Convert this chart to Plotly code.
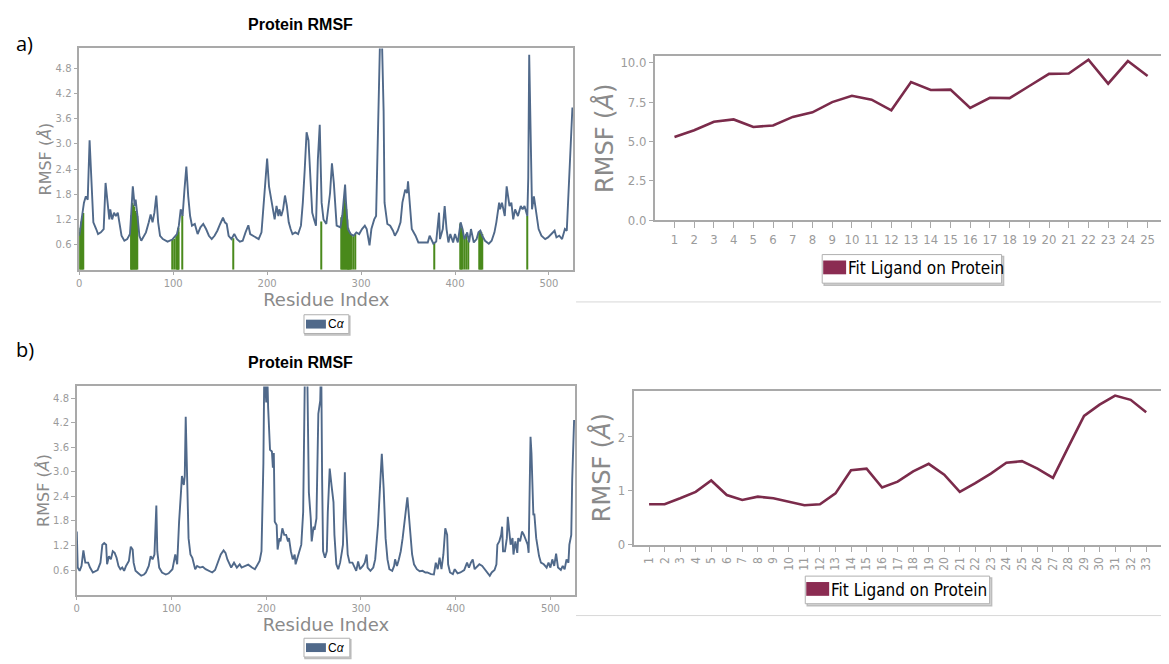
import plotly.graph_objects as go

# ---------------- data ----------------
# Panel a: protein C-alpha RMSF (residue index, RMSF in Angstrom)
a_res = [0, 3, 5, 7, 9, 11, 13, 15, 18, 20, 23, 26, 28, 30, 32, 33, 35, 37, 39, 41, 43, 45, 48, 51, 54,
         57, 59, 60, 62, 64, 66, 69, 71, 74, 76, 78, 80, 82, 84, 86, 89, 94, 99, 104, 106, 108, 110, 112,
         114, 116, 118, 120, 123, 126, 129, 132, 135, 138, 141, 144, 147, 150, 153, 155, 157, 159, 162,
         165, 168, 171, 174, 177, 180, 182, 185, 188, 191, 194, 196, 198, 200, 202, 204, 206, 208, 210,
         212, 213, 215, 217, 219, 221, 223, 225, 227, 230, 233, 236, 238, 240, 242, 244, 246, 248, 250,
         252, 254, 256, 258, 260, 263, 267, 269, 271, 274, 278, 280, 283, 284, 286, 289, 292, 295, 298,
         301, 304, 306, 309, 311, 314, 316, 318, 320, 322, 324, 325, 328, 331, 334, 336, 339, 342, 344,
         347, 349, 350, 352, 354, 358, 361, 366, 371, 373, 377, 380, 383, 384, 387, 389, 391, 393, 395,
         398, 400, 403, 406, 408, 410, 413, 415, 417, 420, 423, 425, 427, 429, 432, 436, 439, 442, 444,
         447, 448, 450, 453, 455, 458, 460, 462, 464, 467, 470, 472, 474, 477, 478, 479, 480, 482, 484,
         487, 489, 492, 496, 499, 503, 506, 508, 511, 514, 517, 519, 521, 523, 525]
a_rmsf = [0.81, 1.28, 1.60, 1.75, 1.67, 3.09, 2.07, 1.13, 0.97, 0.85, 0.89, 0.97, 2.07, 1.67, 1.20, 1.44,
          1.20, 1.36, 1.28, 1.36, 1.13, 0.81, 0.69, 0.73, 0.85, 1.99, 1.52, 1.67, 1.28, 0.81, 0.69, 0.81,
          0.89, 1.13, 1.32, 1.13, 1.36, 1.77, 1.13, 0.81, 0.73, 0.67, 0.72, 0.85, 1.05, 1.44, 1.28, 1.91,
          2.46, 1.75, 1.28, 1.05, 1.09, 0.85, 1.01, 1.09, 0.97, 0.81, 0.73, 0.81, 0.93, 1.09, 1.24, 1.13,
          1.09, 0.81, 0.73, 0.85, 0.73, 0.67, 0.69, 0.89, 1.06, 0.85, 0.81, 0.77, 0.73, 0.89, 1.44, 1.99,
          2.65, 1.99, 1.75, 1.44, 1.20, 1.52, 1.28, 1.44, 1.28, 1.44, 1.77, 1.52, 1.13, 0.97, 0.85, 0.89,
          0.85, 1.05, 1.60, 2.38, 3.28, 3.09, 2.07, 1.36, 1.20, 1.05, 2.62, 3.46, 1.60, 1.20, 1.09, 1.83,
          2.54, 2.07, 1.05, 1.01, 1.28, 2.03, 1.60, 0.97, 0.85, 0.81, 0.89, 0.85, 0.97, 1.05, 0.97, 0.58,
          0.97, 1.20, 1.28, 3.00, 5.30, 5.70, 3.79, 1.60, 1.09, 1.05, 0.93, 0.81, 0.93, 1.13, 1.60, 1.91,
          1.83, 2.11, 1.44, 0.97, 0.81, 0.65, 0.65, 0.65, 0.81, 0.62, 0.67, 1.36, 0.73, 0.97, 1.52, 0.97,
          0.65, 0.85, 0.65, 0.85, 0.65, 1.13, 0.97, 0.73, 0.89, 0.65, 0.97, 0.65, 0.73, 0.89, 0.93, 0.81,
          0.69, 0.62, 0.69, 0.89, 1.13, 1.60, 1.44, 1.60, 1.28, 1.99, 1.52, 1.60, 1.20, 1.44, 1.28, 1.52,
          1.44, 1.52, 1.28, 2.20, 5.13, 3.50, 1.44, 1.75, 1.28, 0.97, 0.81, 0.73, 0.77, 0.85, 0.93, 0.77,
          0.81, 0.73, 0.97, 0.93, 1.83, 3.00, 3.87]

# Panel a: ligand-contact residues (green bars) and their RMSF heights
a_contact_res = [0, 1, 2, 3, 4, 55, 56, 57, 58, 59, 60, 61, 62, 99, 101, 103, 104, 105, 106, 110, 164,
                 258, 279, 280, 281, 282, 283, 284, 285, 286, 287, 288, 289, 290, 292, 294, 378, 406,
                 407, 408, 410, 412, 414, 426, 427, 428, 429, 477]
a_contact_h = [0.90, 1.00, 1.15, 1.28, 1.35, 0.90, 1.30, 1.60, 1.55, 1.50, 1.40, 1.35, 1.28, 0.72,
               0.74, 0.80, 0.85, 0.90, 1.00, 1.30, 0.75, 1.15, 1.25, 1.30, 1.45, 1.70, 1.60, 1.45,
               1.20, 1.00, 0.95, 0.90, 0.85, 0.85, 0.80, 0.85, 0.65, 1.10, 1.00, 0.95, 0.80, 0.85,
               0.70, 0.90, 0.93, 0.90, 0.85, 1.28]

# Panel a: ligand RMSF per atom
lig_a_atoms = list(range(1, 26))
lig_a_rmsf = [5.29, 5.71, 6.25, 6.40, 5.92, 6.02, 6.56, 6.85, 7.50, 7.90, 7.65, 6.98, 8.77, 8.27, 8.29,
              7.13, 7.77, 7.75, 8.52, 9.29, 9.31, 10.19, 8.67, 10.10, 9.15]

# Panel b: protein C-alpha RMSF
b_res = [0, 1, 3, 5, 7, 9, 12, 14, 17, 20, 22, 25, 27, 29, 31, 32, 34, 36, 38, 40, 42, 44, 46, 48, 50,
         52, 55, 57, 59, 60, 62, 65, 68, 71, 73, 76, 78, 80, 82, 84, 85, 87, 90, 94, 97, 101, 103, 104,
         106, 107, 108, 110, 111, 113, 114, 115, 117, 118, 120, 122, 125, 127, 130, 133, 136, 139, 143,
         146, 149, 152, 155, 157, 159, 161, 163, 166, 169, 172, 174, 178, 181, 185, 188, 190, 193, 195,
         197, 198, 200, 201, 202, 204, 206, 207, 208, 209, 211, 212, 214, 215, 217, 219, 221, 223, 224,
         226, 228, 230, 231, 233, 235, 237, 239, 240, 241, 243, 244, 245, 247, 248, 250, 251, 253, 255,
         257, 258, 259, 260, 262, 264, 265, 267, 269, 271, 272, 274, 276, 278, 280, 281, 283, 284, 286,
         288, 291, 293, 295, 297, 299, 302, 304, 306, 307, 310, 313, 315, 318, 320, 322, 324, 326, 328,
         330, 333, 335, 336, 338, 340, 342, 344, 346, 348, 349, 350, 352, 354, 356, 359, 362, 365, 368,
         370, 374, 377, 379, 381, 383, 385, 387, 389, 391, 392, 394, 397, 399, 402, 405, 409, 412, 414,
         416, 418, 420, 422, 425, 428, 431, 434, 436, 438, 441, 443, 444, 446, 448, 449, 450, 452, 454,
         455, 457, 458, 460, 461, 463, 465, 466, 468, 470, 472, 474, 476, 477, 478, 479, 480, 482, 483,
         485, 488, 490, 493, 496, 498, 500, 502, 504, 506, 508, 511, 513, 515, 517, 519, 520, 522, 523,
         525]
b_rmsf = [1.54, 0.66, 0.58, 0.70, 1.08, 0.78, 0.78, 0.66, 0.54, 0.58, 0.60, 0.78, 1.22, 1.26, 1.22, 0.74,
          0.94, 0.86, 1.06, 1.02, 0.90, 0.70, 0.62, 0.66, 0.58, 0.70, 0.82, 1.17, 1.10, 0.78, 0.58, 0.52,
          0.46, 0.49, 0.54, 0.70, 0.94, 0.86, 0.98, 2.18, 1.06, 0.66, 0.54, 0.49, 0.52, 0.62, 0.86, 0.98,
          0.74, 1.30, 1.78, 2.50, 2.90, 2.68, 2.90, 4.35, 1.70, 1.38, 0.98, 0.90, 0.62, 0.70, 0.66, 0.68,
          0.62, 0.58, 0.54, 0.60, 0.78, 0.98, 1.08, 1.02, 0.86, 0.74, 0.66, 0.78, 0.66, 0.74, 0.66, 0.70,
          0.73, 0.66, 0.62, 0.70, 0.82, 1.06, 3.22, 5.60, 4.70, 5.50, 4.58, 3.54, 3.50, 3.10, 3.46, 1.78,
          1.70, 1.10, 1.38, 1.30, 1.62, 1.46, 1.46, 1.30, 1.38, 1.06, 0.86, 0.98, 0.74, 0.90, 1.06, 1.22,
          2.02, 3.62, 5.80, 6.00, 3.62, 2.50, 1.86, 1.30, 1.66, 1.58, 1.86, 4.42, 4.74, 5.80, 2.82, 1.06,
          0.90, 1.06, 2.02, 3.08, 2.66, 2.26, 1.46, 0.74, 0.62, 0.78, 1.06, 1.22, 2.99, 1.86, 0.98, 0.78,
          0.78, 0.66, 0.58, 0.81, 0.62, 0.70, 0.78, 0.98, 0.66, 0.58, 0.66, 0.86, 1.70, 2.58, 3.44, 2.58,
          1.38, 0.86, 0.62, 0.58, 0.70, 0.86, 0.70, 0.86, 1.06, 1.38, 1.86, 2.18, 2.38, 2.10, 1.38, 0.98,
          0.74, 0.62, 0.57, 0.58, 0.54, 0.54, 0.50, 0.49, 0.78, 0.62, 0.90, 0.62, 0.98, 1.62, 1.46, 0.74,
          0.54, 0.50, 0.62, 0.52, 0.54, 0.60, 0.78, 0.66, 0.78, 0.86, 0.62, 0.66, 0.74, 0.70, 0.60, 0.50,
          0.46, 0.54, 0.60, 0.74, 1.22, 1.30, 1.46, 1.66, 1.06, 1.06, 1.38, 1.90, 1.42, 1.22, 1.38, 0.98,
          1.30, 1.02, 1.38, 1.30, 1.54, 1.46, 1.34, 1.22, 1.02, 2.82, 3.86, 3.46, 1.94, 1.98, 1.38, 0.94,
          0.78, 0.74, 0.66, 0.78, 0.66, 0.86, 0.70, 1.00, 0.66, 0.60, 0.70, 0.62, 0.86, 0.78, 1.22, 1.46,
          2.82, 4.27]

# Panel b: ligand RMSF per atom
lig_b_atoms = list(range(1, 34))
lig_b_rmsf = [0.75, 0.75, 0.86, 0.98, 1.19, 0.92, 0.83, 0.89, 0.86, 0.80, 0.73, 0.75, 0.95, 1.38, 1.41,
              1.06, 1.17, 1.36, 1.50, 1.30, 0.98, 1.14, 1.32, 1.52, 1.55, 1.41, 1.24, 1.82, 2.39, 2.60,
              2.77, 2.69, 2.46]

protein_ticks = [0.6, 1.2, 1.8, 2.4, 3.0, 3.6, 4.2, 4.8]
protein_ticktext = ["0.6", "1.2", "1.8", "2.4", "3.0", "3.6", "4.2", "4.8"]
res_ticks = [0, 100, 200, 300, 400, 500]
lig_a_yticks = [0, 2.5, 5, 7.5, 10]
lig_a_yticktext = ["0.0", "2.5", "5.0", "7.5", "10.0"]
lig_b_yticks = [0, 1, 2]

# ---------------- styling ----------------
OFF = 8                      # default page body margin
W, H = 1169 - OFF, 664 - OFF
PROT = "#50698a"
GREEN = "#4a8a1c"
LIG = "#7b2b4b"
FRAME = "#a9a9a9"
TICKC = "#9b9b9b"
TITLEC = "#8a8a8a"
FONT = "DejaVu Sans"
CFONT = "DejaVu Sans Condensed, DejaVu Sans"


def px_x(v):
    return (v - OFF) / W


def px_y(v):
    return 1 - (v - OFF) / H


fig = go.Figure()

# panel a protein
fig.add_trace(go.Bar(x=a_contact_res, y=a_contact_h, width=1.3, marker=dict(color=GREEN, line=dict(width=0)),
                     xaxis="x", yaxis="y", showlegend=False, hoverinfo="skip"))
fig.add_trace(go.Scatter(x=a_res, y=a_rmsf, mode="lines", line=dict(color=PROT, width=1.9),
                         xaxis="x", yaxis="y", showlegend=False))
# panel a ligand
fig.add_trace(go.Scatter(x=lig_a_atoms, y=lig_a_rmsf, mode="lines", line=dict(color=LIG, width=2.6),
                         xaxis="x2", yaxis="y2", showlegend=False))
# panel b protein
fig.add_trace(go.Scatter(x=b_res, y=b_rmsf, mode="lines", line=dict(color=PROT, width=1.9),
                         xaxis="x3", yaxis="y3", showlegend=False))
# panel b ligand
fig.add_trace(go.Scatter(x=lig_b_atoms, y=lig_b_rmsf, mode="lines", line=dict(color=LIG, width=2.6),
                         xaxis="x4", yaxis="y4", showlegend=False))

frame = dict(showline=True, linecolor=FRAME, linewidth=1.5, mirror=True, showgrid=False, zeroline=False,
             ticks="outside", tickcolor=FRAME)

prot_x = dict(frame, tickvals=res_ticks, tickfont=dict(family=FONT, size=10, color=TICKC), ticklen=4,
              title=dict(text="Residue Index", font=dict(family=FONT, size=18, color=TITLEC), standoff=4))
prot_y = dict(frame, tickvals=protein_ticks, ticktext=protein_ticktext,
              tickfont=dict(family=FONT, size=10, color=TICKC), ticklen=4,
              title=dict(text="RMSF (<i>Å</i>)", font=dict(family=FONT, size=16, color=TITLEC), standoff=0))

fig.update_layout(
    width=W, height=H, margin=dict(l=0, r=0, t=0, b=0),
    paper_bgcolor="white", plot_bgcolor="white", showlegend=False, barmode="overlay",
    xaxis=dict(prot_x, domain=[px_x(76.5), px_x(572.3)], range=[0, 526], anchor="y"),
    yaxis=dict(prot_y, domain=[px_y(272.3), px_y(48)], range=[0, 5.28], anchor="x"),
    xaxis2=dict(frame, domain=[px_x(654), px_x(1168.3)], range=[0, 26], anchor="y2",
                tickvals=lig_a_atoms, tickfont=dict(family=CFONT, size=13, color=TICKC), ticklen=6),
    yaxis2=dict(frame, domain=[px_y(222.3), px_y(56)], range=[0, 10.4], anchor="x2",
                tickvals=lig_a_yticks, ticktext=lig_a_yticktext,
                tickfont=dict(family=CFONT, size=13, color=TICKC), ticklen=4,
                title=dict(text="RMSF (<i>Å</i>)", font=dict(family=FONT, size=24, color=TITLEC), standoff=0)),
    xaxis3=dict(prot_x, domain=[px_x(74), px_x(574)], range=[0, 526], anchor="y3"),
    yaxis3=dict(prot_y, domain=[px_y(601.7), px_y(390.7)], range=[0, 5.09], anchor="x3"),
    xaxis4=dict(frame, domain=[px_x(632.7), px_x(1162.7)], range=[0, 34], anchor="y4",
                tickvals=lig_b_atoms, tickangle=-90, tickfont=dict(family=CFONT, size=12, color=TICKC),
                ticklen=6),
    yaxis4=dict(frame, domain=[px_y(551), px_y(395)], range=[0, 2.86], anchor="x4",
                tickvals=lig_b_yticks, tickfont=dict(family=CFONT, size=13, color=TICKC), ticklen=4,
                title=dict(text="RMSF (<i>Å</i>)", font=dict(family=FONT, size=24, color=TITLEC), standoff=0)),
)

ann = []
shapes = []
# panel labels and titles
for label, y in (("a)", 43), ("b)", 353)):
    ann.append(dict(text=label, x=px_x(11), y=px_y(y), xref="paper", yref="paper", xanchor="left",
                    yanchor="middle", showarrow=False, font=dict(family="Open Sans", size=20, color="black")))
for y in (24, 366):
    ann.append(dict(text="<b>Protein RMSF</b>", x=px_x(299), y=px_y(y), xref="paper", yref="paper",
                    xanchor="center", yanchor="middle", showarrow=False,
                    font=dict(family="Liberation Sans", size=16, color="black")))

# legend boxes (C-alpha)
for (x0, y0, x1, y1) in ((302, 318, 347, 337), (302, 646, 348, 665)):
    shapes.append(dict(type="rect", xref="paper", yref="paper", x0=px_x(x0 + 1), x1=px_x(x1 + 1),
                       y0=px_y(y1 + 1.5), y1=px_y(y0 + 1.5), line=dict(color="#bdbdbd", width=1.5),
                       fillcolor="#d9d9d9", layer="above"))
    shapes.append(dict(type="rect", xref="paper", yref="paper", x0=px_x(x0), x1=px_x(x1), y0=px_y(y1),
                       y1=px_y(y0), line=dict(color="#b0b0b0", width=1), fillcolor="white", layer="above"))
    shapes.append(dict(type="rect", xref="paper", yref="paper", x0=px_x(x0 + 2), x1=px_x(x0 + 22),
                       y0=px_y(y0 + 14), y1=px_y(y0 + 5), line=dict(width=0), fillcolor=PROT, layer="above"))
    ann.append(dict(text="C<i>α</i>", x=px_x(x0 + 22), y=px_y(y0 + 9.5), xref="paper", yref="paper",
                    xanchor="left", yanchor="middle", showarrow=False,
                    font=dict(family="Liberation Sans", size=12, color="black")))

# legend boxes (ligand)
for (x0, y0, x1, y1) in ((822, 257, 1002, 286), (805, 583, 990, 611)):
    shapes.append(dict(type="rect", xref="paper", yref="paper", x0=px_x(x0 + 2), x1=px_x(x1 + 2),
                       y0=px_y(y1 + 2), y1=px_y(y0 + 2), line=dict(color="#bdbdbd", width=1.5),
                       fillcolor="#d6d6d6", layer="above"))
    shapes.append(dict(type="rect", xref="paper", yref="paper", x0=px_x(x0), x1=px_x(x1), y0=px_y(y1),
                       y1=px_y(y0), line=dict(color="#b0b0b0", width=1), fillcolor="white", layer="above"))
    shapes.append(dict(type="rect", xref="paper", yref="paper", x0=px_x(x0 + 1), x1=px_x(x0 + 24),
                       y0=px_y(y0 + 20), y1=px_y(y0 + 6), line=dict(width=0), fillcolor="#8b2c52",
                       layer="above"))
    ann.append(dict(text="Fit Ligand on Protein", x=px_x(x0 + 24), y=px_y(y0 + 14), xref="paper",
                    yref="paper", xanchor="left", yanchor="middle", showarrow=False,
                    font=dict(family=CFONT, size=17, color="black")))

# separator lines
for y in (305, 623):
    shapes.append(dict(type="line", xref="paper", yref="paper", x0=px_x(575), x1=1, y0=px_y(y), y1=px_y(y),
                       line=dict(color="#d8d8d8", width=1)))

fig.update_layout(annotations=ann, shapes=shapes)
fig.write_html("out.html")
